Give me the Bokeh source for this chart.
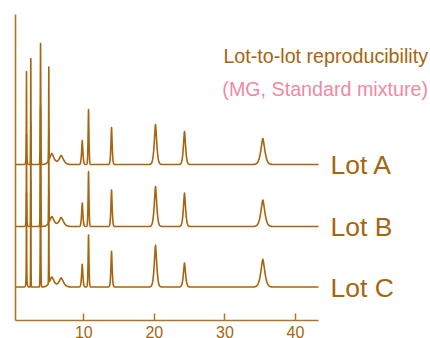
import numpy as np
from bokeh.plotting import figure
from bokeh.models import Range1d, FixedTicker, Label
from bokeh.embed import file_html
from bokeh.resources import INLINE

# ---- data ----
lots = ["Lot A", "Lot B", "Lot C"]
baselines = [156.0, 94.0, 33.5]          # vertical offset of each trace (signal units)
retention = [1.88, 1.88, 2.49, 3.87, 5.04, 5.47, 6.80, 9.78, 10.67, 13.93, 20.16, 24.27, 35.37]
widths = [0.03, 0.10, 0.03, 0.05, 0.03, 0.45, 0.45, 0.13, 0.085, 0.125, 0.25, 0.22, 0.40]
height_a = [83, 10, 106, 121, 93, 11, 9, 24, 55, 37, 40, 33, 26]
height_b = [82, 10, 105, 120, 92, 10, 9, 23.5, 55, 36.5, 40, 33.5, 26.5]
height_c = [84, 10, 107, 122, 94, 10, 9, 22.7, 52, 35.7, 41.7, 24, 27.7]
heights = [height_a, height_b, height_c]
x_ticks = [10, 20, 30, 40]

title_text = "Lot-to-lot reproducibility"
subtitle_text = "(MG, Standard mixture)"

BROWN = "#A5660F"
AXIS = "#AE7424"
PINK = "#F08AA2"
FONT = "Liberation Sans"

# axis extent (data units)
X0, X1 = 0.321, 43.26
Y0, Y1 = 0.0, 306.0
PX_PER_X = 7.057


# helper: pixel -> data coordinates (frame covers whole canvas)
def xd(px):
    return X0 + (px - 15) / PX_PER_X


def yd(py):
    return 320 - py


p = figure(width=430, height=338, output_backend="svg", toolbar_location=None,
           x_range=Range1d(xd(0), xd(430)), y_range=Range1d(yd(338), yd(0)),
           min_border=0)
p.min_border_left = 0
p.min_border_right = 0
p.min_border_top = 0
p.min_border_bottom = 0
p.background_fill_color = "white"
p.border_fill_color = "white"
p.outline_line_color = None
p.grid.visible = False

# traces built from the peak tables
grid = np.union1d(np.arange(X0, X1 + 0.005, 0.005), np.array(retention))
rt = np.array(retention)
wd = np.array(widths)
for lot, base, hts in zip(lots, baselines, heights):
    hs = np.array(hts, dtype=float)
    d = np.abs(grid[:, None] - rt[None, :]) / wd[None, :]
    sig = base + (hs[None, :] * np.exp(-d ** 1.5)).sum(axis=1)
    p.line(grid, sig, line_color=BROWN, line_width=1.6, line_join="round")

# axes
xa = p.xaxis[0]
xa.fixed_location = Y0
xa.bounds = (X0, X1)
xa.ticker = FixedTicker(ticks=x_ticks)
xa.minor_tick_line_color = None
xa.major_tick_in = 7
xa.major_tick_out = 0
xa.major_tick_line_color = AXIS
xa.major_tick_line_width = 1.5
xa.axis_line_color = AXIS
xa.axis_line_width = 1.6
xa.major_label_standoff = 5
xa.major_label_text_font = FONT
xa.major_label_text_font_size = "16px"
xa.major_label_text_color = BROWN

ya = p.yaxis[0]
ya.fixed_location = X0
ya.bounds = (Y0, Y1)
ya.ticker = FixedTicker(ticks=[])
ya.minor_tick_line_color = None
ya.major_tick_line_color = None
ya.major_label_text_font_size = "0px"
ya.axis_line_color = AXIS
ya.axis_line_width = 1.6

for lot, base in zip(lots, baselines):
    p.add_layout(Label(x=xd(330), y=base - 0.5, text=lot, text_font=FONT,
                       text_font_size="26.5px", text_color=BROWN,
                       text_align="left", text_baseline="alphabetic"))

p.add_layout(Label(x=xd(427.5), y=yd(55), text=title_text, text_font=FONT,
                   text_font_size="19.7px", text_color=BROWN,
                   text_align="right", text_baseline="alphabetic"))
p.add_layout(Label(x=xd(427.5), y=yd(88.3), text=subtitle_text, text_font=FONT,
                   text_font_size="19.7px", text_color=PINK,
                   text_align="right", text_baseline="alphabetic"))

open("out.html", "w").write(file_html(p, INLINE))
